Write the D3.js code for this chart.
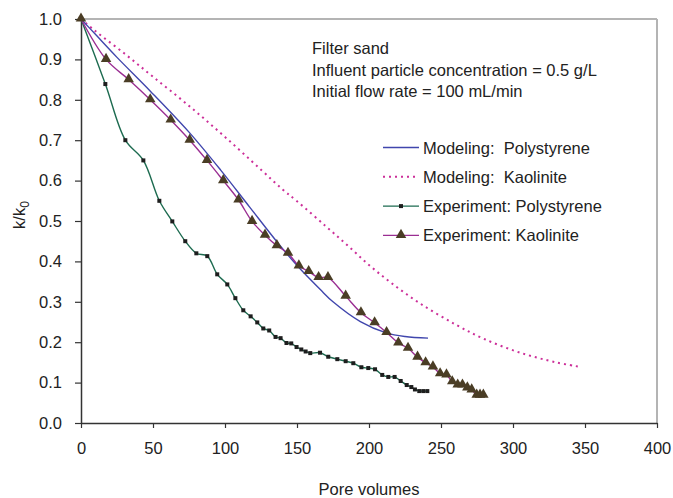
<!DOCTYPE html>
<html>
<head>
<meta charset="utf-8">
<script src="https://cdn.jsdelivr.net/npm/d3@7"></script>
<style>
  html, body { margin: 0; padding: 0; background: #fff; }
  svg { display: block; font-family: "Liberation Sans", Arial, sans-serif; }
  text { white-space: pre; }
</style>
</head>
<body>
<svg id="chart" width="673" height="498"></svg>
<script>
// Pore volumes (x) and normalized permeability k/k0 (y) for each series
const modelPolyX = [0, 10, 25, 48, 75, 97, 117, 138, 151, 166, 175, 194, 212, 225, 241];
const modelPolyY = [1.0, 0.962, 0.905, 0.822, 0.72, 0.626, 0.535, 0.44, 0.386, 0.331, 0.30, 0.251, 0.223, 0.214, 0.21];

const modelKaoX = [0, 10, 30, 50, 75, 100, 125, 140, 150, 170, 185, 200, 215, 235, 260, 280, 305, 330, 345];
const modelKaoY = [1.0, 0.97, 0.915, 0.857, 0.785, 0.708, 0.627, 0.578, 0.549, 0.487, 0.44, 0.391, 0.348, 0.297, 0.244, 0.208, 0.174, 0.150, 0.14];

const expPolyX = [0, 16.9, 30.8, 43.3, 54.4, 63.4, 72.4, 80.1, 87.7, 94.6, 101.6, 107.2, 112.7, 117.8,
  122.4, 126.6, 130.7, 135.1, 138.6, 142.7, 146, 149.7, 153, 156, 159.2, 166, 171.7, 178, 183.8, 189.1,
  194.7, 199.5, 204.2, 209.2, 213.4, 217.8, 222, 226.2, 229.4, 231.9, 234.9, 237.7, 240.5];
const expPolyY = [1.0, 0.839, 0.70, 0.65, 0.55, 0.499, 0.45, 0.42, 0.413, 0.368, 0.343, 0.309, 0.279, 0.264,
  0.249, 0.234, 0.229, 0.213, 0.21, 0.198, 0.197, 0.188, 0.182, 0.177, 0.173, 0.174, 0.164, 0.158, 0.153, 0.148,
  0.138, 0.136, 0.133, 0.119, 0.114, 0.114, 0.104, 0.094, 0.089, 0.083, 0.079, 0.079, 0.079];

const expKaoX = [0, 17.4, 33.1, 48.1, 62.3, 75.5, 87.5, 98.8, 109.4, 118.8, 127.8, 136, 143.75, 151.3, 158.1,
  165, 171.5, 183.8, 194.4, 203.9, 212.2, 220.4, 227.1, 233.7, 239.3, 244.4, 249.4, 253.8, 257.8, 261.6,
  264.9, 268.3, 271.3, 274.8, 277.1, 279.4];
const expKaoY = [1.0, 0.90, 0.85, 0.80, 0.75, 0.70, 0.65, 0.60, 0.552, 0.499, 0.465, 0.439, 0.42, 0.389, 0.375,
  0.36, 0.36, 0.314, 0.273, 0.248, 0.224, 0.198, 0.185, 0.163, 0.149, 0.139, 0.122, 0.119, 0.102, 0.094,
  0.094, 0.087, 0.082, 0.069, 0.069, 0.069];

const xTicks = [0, 50, 100, 150, 200, 250, 300, 350, 400];
const yTicks = [0, 0.1, 0.2, 0.3, 0.4, 0.5, 0.6, 0.7, 0.8, 0.9, 1.0];

const legendLabels = ["Modeling:  Polystyrene", "Modeling:  Kaolinite", "Experiment: Polystyrene", "Experiment: Kaolinite"];
const noteLines = ["Filter sand", "Influent particle concentration = 0.5 g/L", "Initial flow rate = 100 mL/min"];

const svg = d3.select("#chart");
const plot = { left: 81, right: 657, top: 19, bottom: 423 };
const x = d3.scaleLinear().domain([0, 400]).range([plot.left, plot.right]);
const y = d3.scaleLinear().domain([0, 1]).range([plot.bottom, plot.top]);
const fontSize = 16.5;

// Frame: light top and right edges
svg.append("line").attr("x1", plot.left).attr("x2", plot.right).attr("y1", plot.top).attr("y2", plot.top)
  .attr("stroke", "#b4b4b4").attr("stroke-width", 2);
svg.append("line").attr("x1", plot.right).attr("x2", plot.right).attr("y1", plot.top).attr("y2", plot.bottom)
  .attr("stroke", "#b4b4b4").attr("stroke-width", 2);

// Axes
const xAxis = svg.append("g").attr("transform", `translate(0,${plot.bottom})`)
  .call(d3.axisBottom(x).tickValues(xTicks).tickFormat(d3.format("d")).tickSize(5).tickPadding(14).tickSizeOuter(0));
const yAxis = svg.append("g").attr("transform", `translate(${plot.left},0)`)
  .call(d3.axisLeft(y).tickValues(yTicks).tickFormat(d3.format(".1f")).tickSize(6).tickPadding(13).tickSizeOuter(0));
[xAxis, yAxis].forEach(g => {
  g.select(".domain").attr("stroke", "#333").attr("stroke-width", 1.5);
  g.selectAll(".tick line").attr("stroke", "#333").attr("stroke-width", 1.2);
  g.selectAll(".tick text").attr("fill", "#222").style("font-size", fontSize + "px")
    .style("font-family", "'Liberation Sans', Arial, sans-serif");
});

// Axis titles
svg.append("text").attr("x", 369).attr("y", 495).attr("text-anchor", "middle")
  .style("font-size", fontSize + "px").attr("fill", "#222").text("Pore volumes");
const yt = svg.append("text").attr("transform", "translate(25,215) rotate(-90)").attr("text-anchor", "middle")
  .style("font-size", fontSize + "px").attr("fill", "#222");
yt.append("tspan").text("k/k");
yt.append("tspan").attr("dy", 4).style("font-size", "12px").text("0");

// Curves
const pts = (xs, ys) => xs.map((v, i) => [v, ys[i]]);
const line = d3.line().x(d => x(d[0])).y(d => y(d[1])).curve(d3.curveCatmullRom.alpha(0.5));

const series = [
  { data: pts(modelKaoX, modelKaoY), color: "#cc2f99", width: 2, dash: "2,4", marker: null },
  { data: pts(modelPolyX, modelPolyY), color: "#4046ad", width: 1.4, dash: null, marker: null },
  { data: pts(expPolyX, expPolyY), color: "#1d6b50", width: 1.4, dash: null, marker: "square" },
  { data: pts(expKaoX, expKaoY), color: "#9a2e92", width: 1.4, dash: null, marker: "triangle" }
];

const tri = d3.symbol().type(d3.symbolTriangle).size(48);

function drawMarker(g, kind, cx, cy) {
  if (kind === "square") {
    g.append("rect").attr("x", cx - 2).attr("y", cy - 2).attr("width", 4).attr("height", 4).attr("fill", "#1e1e1e");
  } else if (kind === "triangle") {
    g.append("path").attr("d", tri()).attr("transform", `translate(${cx},${cy - 0.5})`).attr("fill", "#4a3d25");
  }
}

series.forEach(s => {
  const p = svg.append("path").datum(s.data).attr("d", line).attr("fill", "none")
    .attr("stroke", s.color).attr("stroke-width", s.width);
  if (s.dash) p.attr("stroke-dasharray", s.dash);
  if (s.marker) {
    const g = svg.append("g");
    s.data.forEach(d => drawMarker(g, s.marker, x(d[0]), y(d[1])));
  }
});

// Notes
noteLines.forEach((t, i) => {
  svg.append("text").attr("x", 312).attr("y", 54 + i * 21.5).style("font-size", fontSize + "px")
    .attr("fill", "#222").text(t);
});

// Legend
const legendOrder = [1, 0, 2, 3];
legendOrder.forEach((si, i) => {
  const s = series[si];
  const ly = 147.5 + i * 29.3;
  const g = svg.append("g");
  const l = g.append("line").attr("x1", 383).attr("x2", 419).attr("y1", ly).attr("y2", ly)
    .attr("stroke", s.color).attr("stroke-width", s.width);
  if (s.dash) l.attr("stroke-dasharray", s.dash);
  if (s.marker) drawMarker(g, s.marker, 401, ly);
  g.append("text").attr("x", 423).attr("y", ly + 6).style("font-size", fontSize + "px")
    .attr("fill", "#222").text(legendLabels[i]);
});
</script>
</body>
</html>
